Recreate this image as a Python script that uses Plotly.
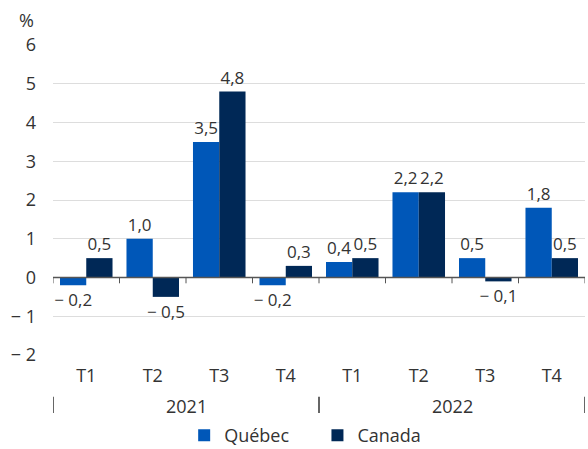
import plotly.graph_objects as go

quarters = ["T1", "T2", "T3", "T4", "T1", "T2", "T3", "T4"]
years = ["2021", "2022"]
quebec = [-0.2, 1.0, 3.5, -0.2, 0.4, 2.2, 0.5, 1.8]
canada = [0.5, -0.5, 4.8, 0.3, 0.5, 2.2, -0.1, 0.5]
y_ticks = [-2, -1, 0, 1, 2, 3, 4, 5, 6]
series_names = ["Québec", "Canada"]

def fmt(v):
    s = f"{abs(v):.1f}".replace(".", ",")
    return ("\u2212 " + s) if v < 0 else s

def fmt_tick(v):
    return ("\u2212 " + str(abs(v))) if v < 0 else str(v)

FONT = "Open Sans"
TXT = "#333333"
FS = 18
FS_BAR = 17
xs = list(range(len(quarters)))

fig = go.Figure()
fig.add_trace(go.Bar(
    x=xs, y=quebec, name=series_names[0] + "\u00a0" * 5,
    marker=dict(color="#0057b8", line=dict(width=0)),
    text=[fmt(v) for v in quebec], textposition="outside", constraintext="none",
    textfont=dict(family=FONT, size=FS_BAR, color=TXT), cliponaxis=False,
))
fig.add_trace(go.Bar(
    x=xs, y=canada, name=series_names[1],
    marker=dict(color="#002856", line=dict(width=0)),
    text=[fmt(v) for v in canada], textposition="outside", constraintext="none",
    textfont=dict(family=FONT, size=FS_BAR, color=TXT), cliponaxis=False,
))

shapes = []
shapes.append(dict(type="line", xref="x", yref="y", x0=-0.53, x1=7.5, y0=0, y1=0,
                   line=dict(color="#555555", width=1.5), layer="above"))
for b in range(len(quarters) + 1):
    shapes.append(dict(type="line", xref="x", yref="y", x0=b - 0.5, x1=b - 0.5, y0=0, y1=-0.15,
                       line=dict(color="#555555", width=1), layer="above"))
for b in [-0.5, 3.5, 7.5]:
    shapes.append(dict(type="line", xref="x", yref="paper", x0=b, x1=b, y0=-0.135, y1=-0.187,
                       line=dict(color="#333333", width=1.5)))

annotations = [
    dict(x=1.5, y=-0.163, xref="x", yref="paper", text=years[0], showarrow=False,
         font=dict(family=FONT, size=FS, color=TXT), yanchor="middle"),
    dict(x=5.5, y=-0.163, xref="x", yref="paper", text=years[1], showarrow=False,
         font=dict(family=FONT, size=FS, color=TXT), yanchor="middle"),
    dict(x=-0.032, y=1.08, xref="paper", yref="paper", text="%", showarrow=False,
         font=dict(family=FONT, size=FS, color=TXT), xanchor="right", yanchor="middle"),
]

fig.update_layout(
    width=588, height=449,
    margin=dict(l=53, r=3, t=45, b=94),
    paper_bgcolor="white", plot_bgcolor="white",
    barmode="group", bargap=0.21, bargroupgap=0,
    font=dict(family=FONT, size=FS, color=TXT),
    showlegend=True,
    legend=dict(orientation="h", x=0.474, xanchor="center", yref="container", y=0.03,
                yanchor="middle", font=dict(family=FONT, size=FS, color=TXT),
                itemwidth=30, traceorder="normal"),
    xaxis=dict(range=[-0.5, 7.5], tickvals=xs, ticktext=quarters, showgrid=False,
               zeroline=False, showline=False, ticks="", automargin=False,
               ticklabelstandoff=8, tickfont=dict(size=FS, color=TXT)),
    yaxis=dict(range=[-2, 6], tickvals=y_ticks, ticktext=[fmt_tick(v) for v in y_ticks],
               showgrid=True, gridcolor="#dddddd", gridwidth=1, zeroline=False,
               showline=False, ticks="", automargin=False, ticklabelstandoff=16,
               tickfont=dict(size=FS, color=TXT)),
    shapes=shapes, annotations=annotations,
)

fig.write_html("out.html", config={"displayModeBar": False},
               post_script="document.body.style.margin='0';")
